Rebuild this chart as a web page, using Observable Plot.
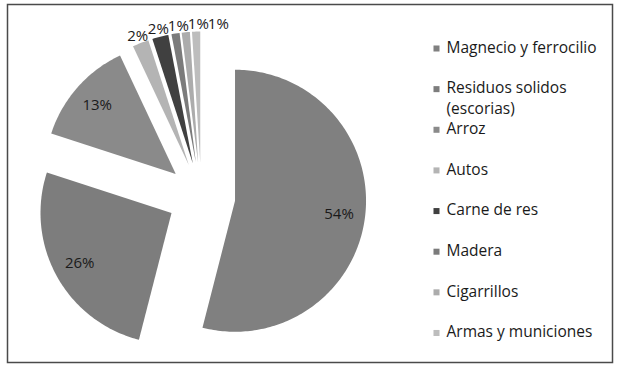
<!DOCTYPE html>
<html>
<head>
<meta charset="utf-8">
<script src="https://cdn.jsdelivr.net/npm/d3@7"></script>
<script src="https://cdn.jsdelivr.net/npm/@observablehq/plot@0.6"></script>
<style>
  html, body { margin: 0; padding: 0; background: #fff; }
  #chart svg { display: block; }
</style>
</head>
<body>
<div id="chart"></div>
<script>
// ---- data ----
const categories = [
  "Magnecio y ferrocilio",
  "Residuos solidos\n(escorias)",
  "Arroz",
  "Autos",
  "Carne de res",
  "Madera",
  "Cigarrillos",
  "Armas y municiones"
];
const values = [54, 26, 13, 2, 2, 1, 1, 1];
const colors = ["#808080", "#7d7d7d", "#8a8a8a", "#b4b4b4", "#404040", "#7b7b7b", "#acacac", "#bdbdbd"];

// ---- layout ----
const W = 620, H = 371;
const cx = 200.8, cy = 196, R = 131, explode = 34;
const font = "'Open Sans', Lato, sans-serif";

const total = d3.sum(values);
let acc = 0;
const slices = values.map((v, i) => {
  const a0 = acc / total * 360;
  acc += v;
  const a1 = acc / total * 360;
  const mid = (a0 + a1) / 2 * Math.PI / 180;
  const ax = cx + explode * Math.sin(mid);
  const ay = cy - explode * Math.cos(mid);
  const pts = [{x: ax, y: ay}];
  const steps = Math.max(2, Math.ceil(a1 - a0));
  for (let k = 0; k <= steps; k++) {
    const t = (a0 + (a1 - a0) * k / steps) * Math.PI / 180;
    pts.push({x: ax + R * Math.sin(t), y: ay - R * Math.cos(t)});
  }
  pts.push({x: ax, y: ay});
  const inside = v >= 5;
  const lr = inside ? 0.8 * R : 1.06 * R;
  return {
    i, v, pts, color: colors[i],
    label: v + "%",
    inside,
    lx: ax + lr * Math.sin(mid),
    ly: ay - lr * Math.cos(mid)
  };
});

// spread crowded outside labels left-to-right
const outside = slices.filter(s => !s.inside);
for (let k = 1; k < outside.length; k++) {
  outside[k].lx = Math.max(outside[k].lx, outside[k - 1].lx + 20);
}

const legend = categories.map((c, i) => ({
  name: c, color: colors[i], y: 48 + 40.64 * i
}));

const marks = [
  Plot.frame({stroke: "#4a4a4a", strokeWidth: 1.5, insetLeft: 7, insetTop: 4, insetRight: 8, insetBottom: 9}),
  ...slices.map(s => Plot.line(s.pts, {x: "x", y: "y", fill: s.color, stroke: "none"})),
  Plot.text(slices, {x: "lx", y: "ly", text: "label", fill: "#1a1a1a", fontSize: 15, fontFamily: font, textAnchor: "middle"}),
  Plot.dot(legend, {x: () => 436, y: "y", symbol: "square", r: 3.4, fill: "color", stroke: "none"}),
  Plot.text(legend, {x: () => 446, y: "y", text: "name", textAnchor: "start", lineAnchor: "top", dy: -10, lineHeight: 1.3, fontSize: 15.5, fill: "#1a1a1a", fontFamily: font})
];

const chart = Plot.plot({
  width: W, height: H,
  margin: 0,
  x: {domain: [0, W], range: [0, W], axis: null},
  y: {domain: [0, H], range: [0, H], axis: null},
  style: {background: "#fff", fontFamily: font},
  marks
});
document.getElementById("chart").appendChild(chart);
</script>
</body>
</html>
